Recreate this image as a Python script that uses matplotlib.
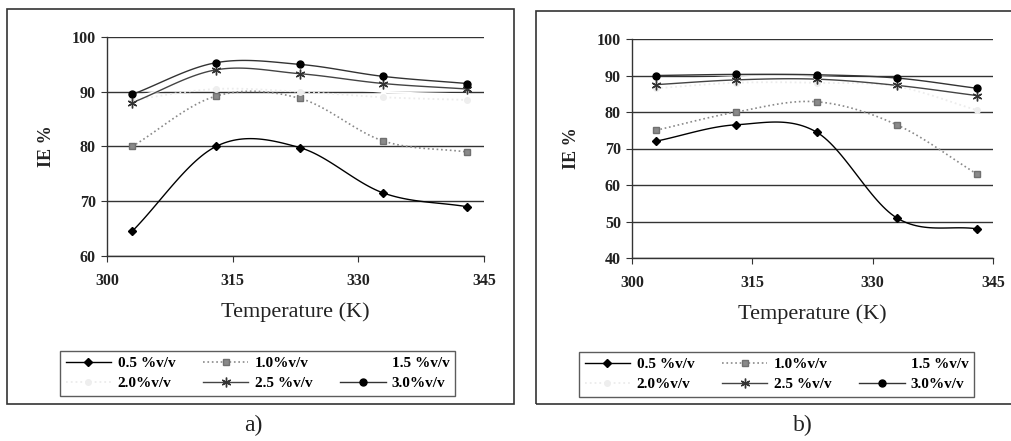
import numpy as np
import matplotlib
matplotlib.use("Agg")
import matplotlib.pyplot as plt
from matplotlib.patches import Rectangle
from matplotlib.lines import Line2D

# ---- data ----
temps = [303, 313, 323, 333, 343]
labels = ["0.5 %v/v", "1.0%v/v", "1.5 %v/v", "2.0%v/v", "2.5 %v/v", "3.0%v/v"]

a_05 = [64.5, 80.0, 79.8, 71.5, 69.0]
a_10 = [80.0, 89.2, 88.8, 81.0, 79.0]
a_15 = [89.0, 92.0, 91.5, 90.0, 89.5]
a_20 = [88.5, 90.5, 90.0, 89.0, 88.5]
a_25 = [88.0, 94.0, 93.3, 91.5, 90.5]
a_30 = [89.5, 95.3, 95.0, 92.8, 91.5]

b_05 = [72.0, 76.5, 74.5, 51.0, 48.0]
b_10 = [75.0, 80.0, 82.8, 76.5, 63.0]
b_15 = [88.5, 89.5, 89.5, 88.5, 85.5]
b_20 = [86.5, 88.0, 88.0, 87.0, 80.5]
b_25 = [87.5, 88.8, 89.0, 87.3, 84.5]
b_30 = [90.0, 90.3, 90.2, 89.3, 86.5]

x_ticks = [300, 315, 330, 345]
a_yticks = [60, 70, 80, 90, 100]
b_yticks = [40, 50, 60, 70, 80, 90, 100]

styles = [
    dict(color="black", ls="-", marker="D", ms=4.5, mfc="black", mec="black", lw=1.0),
    dict(color="#8a8a8a", ls=":", marker="s", ms=5, mfc="#8a8a8a", mec="#707070", lw=1.2),
    dict(color="white", ls="-", marker="^", ms=5, mfc="white", mec="white", lw=1.5),
    dict(color="#ececec", ls=":", marker="o", ms=4, mfc="#eeeeee", mec="#eeeeee", lw=1.3),
    dict(color="#444444", ls="-", marker=(6, 2, 0), ms=7, mfc="#333333", mec="#333333", lw=1.0),
    dict(color="#333333", ls="-", marker="o", ms=5, mfc="black", mec="black", lw=1.0),
]

serif = ["Liberation Serif", "DejaVu Serif"]


def smooth(x, y, n=30):
    x = np.asarray(x, float); y = np.asarray(y, float)
    px = np.concatenate([[2 * x[0] - x[1]], x, [2 * x[-1] - x[-2]]])
    py = np.concatenate([[2 * y[0] - y[1]], y, [2 * y[-1] - y[-2]]])
    xs, ys = [], []
    for i in range(1, len(px) - 2):
        p0, p1, p2, p3 = (np.array([px[j], py[j]]) for j in range(i - 1, i + 3))
        c1 = p1 + (p2 - p0) / 6.0
        c2 = p2 - (p3 - p1) / 6.0
        t = np.linspace(0, 1, n)[:, None]
        b = (1 - t) ** 3 * p1 + 3 * (1 - t) ** 2 * t * c1 + 3 * (1 - t) * t ** 2 * c2 + t ** 3 * p2
        xs.append(b[:, 0]); ys.append(b[:, 1])
    return np.concatenate(xs), np.concatenate(ys)


fig = plt.figure(figsize=(10.12, 4.41), dpi=100)
fig.patch.set_facecolor("white")

fig.patches.append(Rectangle((7 / 1012, 1 - 404 / 441), (514 - 7) / 1012, (404 - 9) / 441,
                             transform=fig.transFigure, fill=False, ec="#333333", lw=1.2))
fig.patches.append(Rectangle((536 / 1012, 1 - 404 / 441), (1020 - 536) / 1012, (404 - 11) / 441,
                             transform=fig.transFigure, fill=False, ec="#333333", lw=1.2, clip_on=False))


def panel(rect, series, yticks, legend_center, tag, tag_x):
    ax = fig.add_axes(rect)
    ax.set_xlim(300, 345)
    ax.set_ylim(yticks[0], yticks[-1])
    ax.set_xticks(x_ticks)
    ax.set_yticks(yticks)
    ax.yaxis.grid(True, color="#333333", lw=1.0)
    ax.set_axisbelow(True)
    for s in ["top", "right"]:
        ax.spines[s].set_visible(False)
    for s in ["left", "bottom"]:
        ax.spines[s].set_color("#333333")
        ax.spines[s].set_linewidth(1.0)
    ax.tick_params(axis="both", direction="out", length=4, color="#333333", labelsize=11.5, pad=4)
    for lab in ax.get_xticklabels() + ax.get_yticklabels():
        lab.set_family(serif); lab.set_fontweight("bold"); lab.set_color("#222222")
    ax.tick_params(axis="x", pad=8)
    handles = []
    for y, st in zip(series, styles):
        xs, ys = smooth(temps, y)
        ax.plot(xs, ys, color=st["color"], ls=st["ls"], lw=st["lw"], zorder=3)
        ax.plot(temps, y, ls="none", marker=st["marker"], ms=st["ms"], mfc=st["mfc"],
                mec=st["mec"], mew=1.0, zorder=4)
        handles.append(Line2D([], [], color=st["color"], ls=st["ls"], lw=st["lw"], marker=st["marker"],
                              ms=st["ms"], mfc=st["mfc"], mec=st["mec"]))
    ax.set_xlabel("Temperature (K)", family=serif, fontsize=16, color="#222222", labelpad=10)
    ax.set_ylabel("IE %", family=serif, fontsize=13, fontweight="bold", color="#222222", labelpad=12)
    order = [0, 3, 1, 4, 2, 5]
    leg = fig.legend([handles[i] for i in order], [labels[i] for i in order], ncol=3,
                     loc="center", bbox_to_anchor=legend_center, bbox_transform=fig.transFigure,
                     prop=dict(family=serif, weight="bold", size=11), frameon=True, fancybox=False,
                     edgecolor="#333333", handlelength=3.0, columnspacing=1.8, handletextpad=0.4,
                     borderpad=0.35, labelspacing=0.4)
    leg.get_frame().set_linewidth(1.0)
    fig.text(tag_x, 1 - 425 / 441, tag, family=serif, fontsize=17, ha="center", va="center",
             color="#222222")
    return ax


panel([107 / 1012, 1 - 256 / 441, (484 - 107) / 1012, (256 - 37) / 441],
      [a_05, a_10, a_15, a_20, a_25, a_30], a_yticks,
      (257.5 / 1012, 1 - 373.5 / 441), "a)", 253 / 1012)
panel([632 / 1012, 1 - 258 / 441, (993 - 632) / 1012, (258 - 39) / 441],
      [b_05, b_10, b_15, b_20, b_25, b_30], b_yticks,
      (776.5 / 1012, 1 - 374.5 / 441), "b)", 803 / 1012)

fig.savefig("out.png", dpi=100)
